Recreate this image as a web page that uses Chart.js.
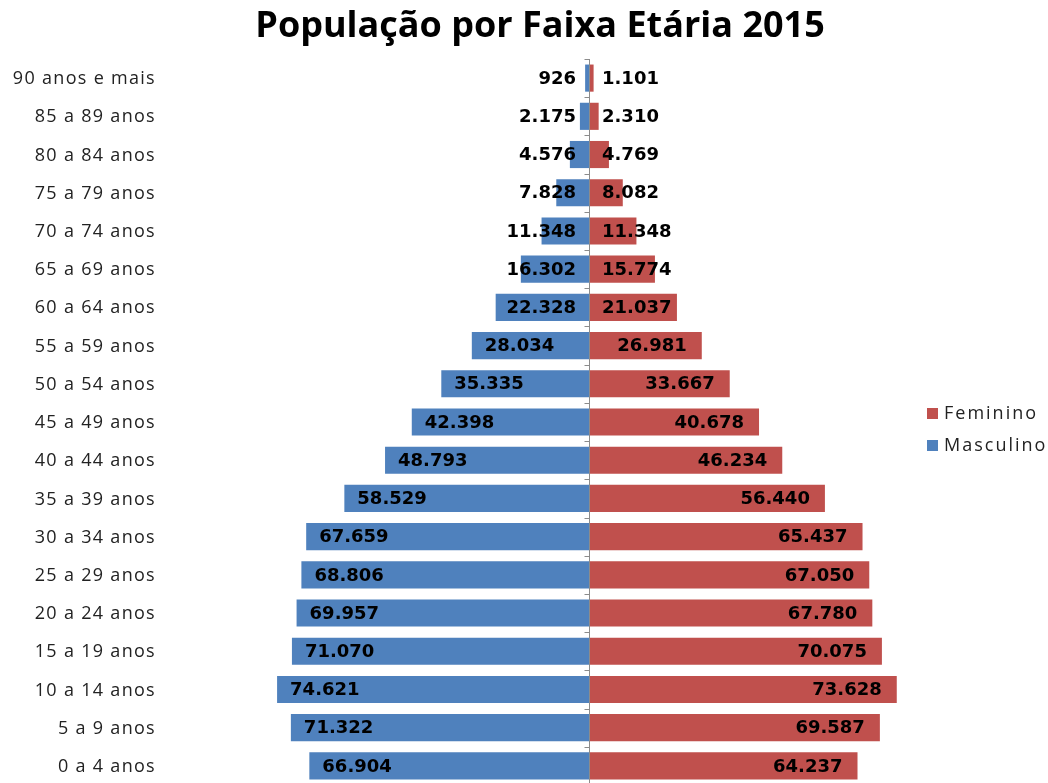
<!DOCTYPE html>
<html lang="pt-BR">
<head>
<meta charset="utf-8">
<title>População por Faixa Etária 2015</title>
<script src="https://cdn.jsdelivr.net/npm/chart.js@4.4.0/dist/chart.umd.min.js"></script>
<style>
    html, body { margin: 0; padding: 0; background: #fff; overflow: hidden; }
    canvas { display: block; }
</style>
</head>
<body>
<canvas id="graficoPiramide" width="1048" height="800"></canvas>
<script>
// Faixas etárias, de cima para baixo
const faixas = ['90 anos e mais', '85 a 89 anos', '80 a 84 anos', '75 a 79 anos', '70 a 74 anos',
    '65 a 69 anos', '60 a 64 anos', '55 a 59 anos', '50 a 54 anos', '45 a 49 anos', '40 a 44 anos',
    '35 a 39 anos', '30 a 34 anos', '25 a 29 anos', '20 a 24 anos', '15 a 19 anos', '10 a 14 anos',
    '5 a 9 anos', '0 a 4 anos'];
const masculino = [926, 2175, 4576, 7828, 11348, 16302, 22328, 28034, 35335, 42398, 48793,
    58529, 67659, 68806, 69957, 71070, 74621, 71322, 66904];
const feminino = [1101, 2310, 4769, 8082, 11348, 15774, 21037, 26981, 33667, 40678, 46234,
    56440, 65437, 67050, 67780, 70075, 73628, 69587, 64237];

const corMasc = '#4F81BD';
const corFem = '#C0504D';
const titulo = 'População por Faixa Etária 2015';

function formatar(v) {
    return String(Math.abs(v)).replace(/\B(?=(\d{3})+(?!\d))/g, '.');
}

// Eixo central com marcas entre as faixas
const eixoCentral = {
    id: 'eixoCentral',
    afterDatasetsDraw(chart) {
        const c = chart.ctx;
        const x0 = Math.round(chart.scales.x.getPixelForValue(0)) + 0.5;
        const area = chart.chartArea;
        const passo = (area.bottom - area.top) / faixas.length;
        c.save();
        c.strokeStyle = '#8c8c8c';
        c.lineWidth = 1;
        c.beginPath();
        c.moveTo(x0, area.top);
        c.lineTo(x0, area.bottom);
        for (let i = 0; i <= faixas.length; i++) {
            const y = Math.round(area.top + i * passo) + 0.5;
            c.moveTo(x0 - 5, y);
            c.lineTo(x0, y);
        }
        c.stroke();
        c.restore();
    }
};

// Rótulos de valor nas barras
const rotulos = {
    id: 'rotulos',
    afterDatasetsDraw(chart) {
        const c = chart.ctx;
        const x0 = chart.scales.x.getPixelForValue(0);
        c.save();
        c.letterSpacing = '0px';
        c.font = 'bold 18px "DejaVu Sans"';
        c.fillStyle = '#000';
        c.textBaseline = 'middle';
        c.textAlign = 'left';
        chart.data.datasets.forEach((ds, d) => {
            chart.getDatasetMeta(d).data.forEach((barra, i) => {
                const txt = formatar(ds.data[i]);
                const w = c.measureText(txt).width;
                let esq;
                if (ds.data[i] < 0) {
                    esq = Math.min(barra.x + 13, x0 - 13 - w);
                } else {
                    esq = Math.max(barra.x - 15 - w, x0 + 13);
                }
                c.fillText(txt, esq, barra.y + 1);
            });
        });
        c.restore();
    }
};

// Título, nomes das faixas e legenda (com espaçamento entre letras)
const textos = {
    id: 'textos',
    afterDraw(chart) {
        const c = chart.ctx;
        const eixoY = chart.scales.y;
        c.save();
        c.letterSpacing = '0px';
        c.fillStyle = '#000';
        c.font = 'bold 36px "Open Sans"';
        c.textAlign = 'center';
        c.textBaseline = 'middle';
        c.fillText(titulo, 540, 27);

        c.font = '18px "Open Sans"';
        c.letterSpacing = '1.3px';
        c.fillStyle = '#222';
        c.textAlign = 'right';
        faixas.forEach((nome, i) => {
            c.fillText(nome, eixoY.right - 15, eixoY.getPixelForValue(i) + 1);
        });

        const itens = [['Feminino', corFem, 414], ['Masculino', corMasc, 446]];
        c.letterSpacing = '2px';
        c.textAlign = 'left';
        itens.forEach(([nome, cor, y]) => {
            c.fillStyle = cor;
            c.fillRect(927, y - 6, 11, 11);
            c.fillStyle = '#222';
            c.fillText(nome, 944, y);
        });
        c.letterSpacing = '0px';
        c.restore();
    }
};

const ctx = document.getElementById('graficoPiramide').getContext('2d');
const grafico = new Chart(ctx, {
    type: 'bar',
    data: {
        labels: faixas,
        datasets: [{
            label: 'Masculino',
            data: masculino.map(v => -v),
            backgroundColor: corMasc,
            categoryPercentage: 1,
            barPercentage: 0.71
        }, {
            label: 'Feminino',
            data: feminino,
            backgroundColor: corFem,
            categoryPercentage: 1,
            barPercentage: 0.71
        }]
    },
    options: {
        indexAxis: 'y',
        responsive: false,
        animation: false,
        layout: { padding: { left: 0, right: 41, top: 59, bottom: 15 } },
        plugins: {
            legend: { display: false },
            tooltip: { enabled: false },
            title: { display: false }
        },
        scales: {
            x: {
                stacked: true,
                min: -100000,
                max: 100000,
                display: false
            },
            y: {
                stacked: true,
                grid: { display: false, drawTicks: false },
                border: { display: false },
                ticks: { display: false },
                afterFit(eixo) { eixo.width = 171; }
            }
        }
    },
    plugins: [eixoCentral, rotulos, textos]
});
</script>
</body>
</html>
